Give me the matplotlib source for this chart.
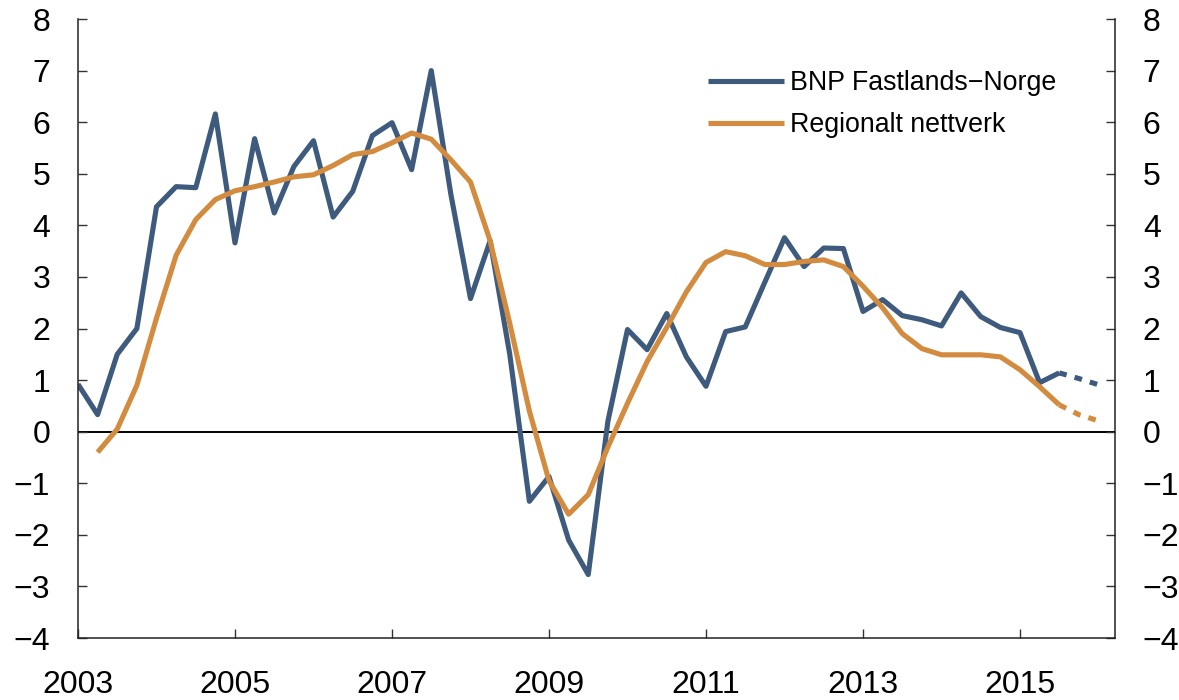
import matplotlib
matplotlib.use("Agg")
import matplotlib.pyplot as plt
import numpy as np

plt.rcParams['font.family'] = ['Liberation Sans', 'DejaVu Sans']

# Quarterly observations starting 2003Q1 (x = 2003.0 + 0.25*i)
start_year = 2003.0
bnp = [0.92, 0.33, 1.50, 2.00, 4.36, 4.75, 4.73, 6.16, 3.66, 5.68,
       4.24, 5.14, 5.64, 4.16, 4.66, 5.74, 5.99, 5.08, 7.00, 4.60,
       2.58, 3.70, 1.50, -1.35, -0.87, -2.10, -2.77, 0.20, 1.98, 1.59,
       2.29, 1.45, 0.88, 1.94, 2.03, 2.90, 3.76, 3.20, 3.56, 3.55,
       2.33, 2.56, 2.25, 2.17, 2.05, 2.69, 2.23, 2.02, 1.92, 0.95,
       1.14, 1.03, 0.91]
regional = [np.nan, -0.40, 0.05, 0.90, 2.20, 3.42, 4.11, 4.50, 4.67, 4.75,
            4.84, 4.94, 4.98, 5.16, 5.37, 5.43, 5.60, 5.79, 5.67, 5.27,
            4.84, 3.70, 2.10, 0.40, -0.95, -1.60, -1.22, -0.30, 0.55, 1.36,
            2.02, 2.71, 3.28, 3.49, 3.41, 3.24, 3.24, 3.30, 3.33, 3.20,
            2.82, 2.40, 1.90, 1.61, 1.49, 1.49, 1.49, 1.45, 1.20, 0.87,
            0.52, 0.33, 0.21]
forecast_from = 50  # index where dotted (projection) part starts

labels = ['BNP Fastlands\u2212Norge', 'Regionalt nettverk']
colors = ['#3E5A7D', '#D38C3F']
xticks = [2003, 2005, 2007, 2009, 2011, 2013, 2015]
yticks = list(range(-4, 9))

x = start_year + 0.25 * np.arange(len(bnp))

fig = plt.figure(figsize=(11.79, 7.0), dpi=100)
ax = fig.add_axes([78/1179, 62/700, (1115-78)/1179, (638-19)/700])

lw = 3.7
for series, col, lab in zip([bnp, regional], colors, labels):
    s = np.array(series, dtype=float)
    ax.plot(x[:forecast_from+1], s[:forecast_from+1], color=col, lw=lw,
            label=lab, solid_joinstyle='round', solid_capstyle='butt')
    ax.plot(x[forecast_from:], s[forecast_from:], color=col, lw=lw,
            dashes=(1.5, 1.6), dash_capstyle='butt')

ax.axhline(0, color='black', lw=1.4, zorder=1)

ax.set_xlim(2003.0, 2003.0 + 1037/78.5)
ax.set_ylim(-4, 8)
ax.set_xticks(xticks)
ax.set_xticklabels([str(t) for t in xticks])
ax.set_yticks(yticks)
ax.set_yticklabels([('\u2212' + str(-v)) if v < 0 else str(v) for v in yticks])

ax.tick_params(axis='both', direction='in', length=6.5, width=1.0,
               labelsize=23, color='#333333')
ax.tick_params(axis='y', which='both', left=True, right=True,
               labelleft=True, labelright=True)
ax.tick_params(axis='y', pad=20)
ax.tick_params(axis='x', pad=23)

for side in ['left', 'right', 'bottom']:
    ax.spines[side].set_linewidth(1.1)
    ax.spines[side].set_color('#222222')
ax.spines['top'].set_visible(False)

leg = ax.legend(loc='upper left', bbox_to_anchor=(708/1179, 1 - 70/700),
                bbox_transform=fig.transFigure, frameon=False, fontsize=19.3,
                handlelength=2.85, handletextpad=0.22, labelspacing=0.6,
                borderpad=0, borderaxespad=0)

fig.savefig('out.png', dpi=100)
